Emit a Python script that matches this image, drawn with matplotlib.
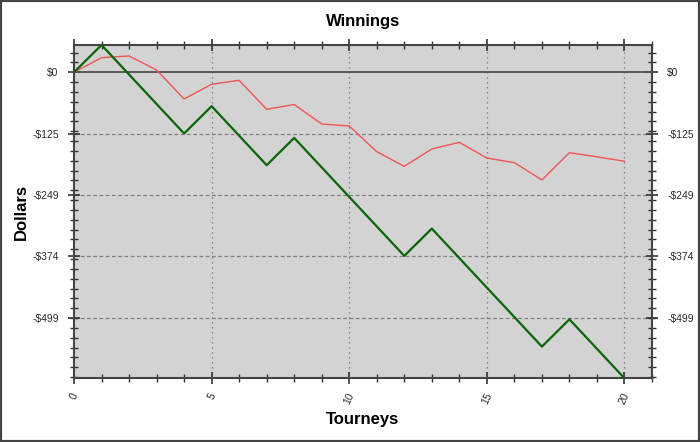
import matplotlib
matplotlib.use("Agg")
import matplotlib.pyplot as plt
from matplotlib.patches import Rectangle
from matplotlib.ticker import FixedLocator, MultipleLocator
import numpy as np

tourneys = list(range(0, 21))
actual = [0, 55.5, -4.5, -64.5, -124.5, -69, -129, -189, -133.5, -193.5, -253.5,
          -313.5, -373.5, -318, -378, -438, -498, -558, -502.5, -562.5, -622.5]
expected = [0, 29.7, 33.2, 4.7, -54.3, -24.4, -16.3, -75.3, -65.5, -105.2, -109.3,
            -161.5, -191.3, -156, -142.5, -174.4, -183.9, -219, -163.5, -172, -181]
ytick_vals = [0, -124.75, -249.5, -374.25, -499]
ytick_labels = ["$0", "-$125", "-$249", "-$374", "-$499"]
xtick_vals = [0, 5, 10, 15, 20]

fig = plt.figure(figsize=(7, 4.42), dpi=100)
fig.patch.set_facecolor("white")
ax = fig.add_axes([74/700, 1-378.3/442, (652-74)/700, (378.3-45)/442])
ax.set_facecolor("#d3d3d3")

ax.set_xlim(0, 21)
ax.set_ylim(min(actual), max(actual))

for y in ytick_vals[1:]:
    ax.axhline(y, color="#808080", lw=0.9, ls=(0, (3, 2)), zorder=1)
for x in xtick_vals[1:]:
    ax.axvline(x, color="#707070", lw=0.9, ls=(0, (1, 3)), zorder=1)
ax.axhline(0, color="#505050", lw=1.3, zorder=2)

ax.plot(tourneys, expected, color="#f05555", lw=1.0, zorder=3)
ax.plot(tourneys, actual, color="#0a640a", lw=1.6, zorder=4)

ax.yaxis.set_major_locator(FixedLocator(ytick_vals))
ax.set_yticklabels(ytick_labels)
ymin, ymax = min(actual), max(actual)
minors = [v for v in np.arange(-700, 100, 20) if ymin <= v <= ymax]
ax.yaxis.set_minor_locator(FixedLocator(minors))
ax.xaxis.set_major_locator(FixedLocator(xtick_vals))
ax.xaxis.set_minor_locator(MultipleLocator(1))

ax.tick_params(axis="both", which="major", direction="inout", length=9, width=1.2,
               color="#333333", labelsize=7.5, labelcolor="#2a2a2a")
ax.tick_params(axis="both", which="minor", direction="inout", length=6, width=1.0,
               color="#333333")
ax.tick_params(axis="y", which="both", left=True, right=True, labelleft=True,
               labelright=True, pad=6.5)
ax.tick_params(axis="x", which="both", bottom=True, top=True, labeltop=False, pad=5)
for lab in ax.get_xticklabels() + ax.get_yticklabels():
    lab.set_fontfamily("Liberation Sans")
for lab in ax.get_xticklabels():
    lab.set_rotation(65)

for s in ax.spines.values():
    s.set_color("#444444")
    s.set_linewidth(1.5)

ax.set_title("Winnings", fontsize=12, fontweight="bold", pad=14,
             fontfamily="Liberation Sans")
ax.set_xlabel("Tourneys", fontsize=12, fontweight="bold", fontfamily="Liberation Sans")
ax.set_ylabel("Dollars", fontsize=12, fontweight="bold", fontfamily="Liberation Sans")
ax.xaxis.set_label_coords(0.5, -0.1)
ax.yaxis.set_label_coords(-0.078, 0.5)

fig.add_artist(Rectangle((0, 0), 1, 1, transform=fig.transFigure, fill=False,
                         edgecolor="#444444", lw=3))

fig.savefig("out.png", dpi=100, facecolor="white")
